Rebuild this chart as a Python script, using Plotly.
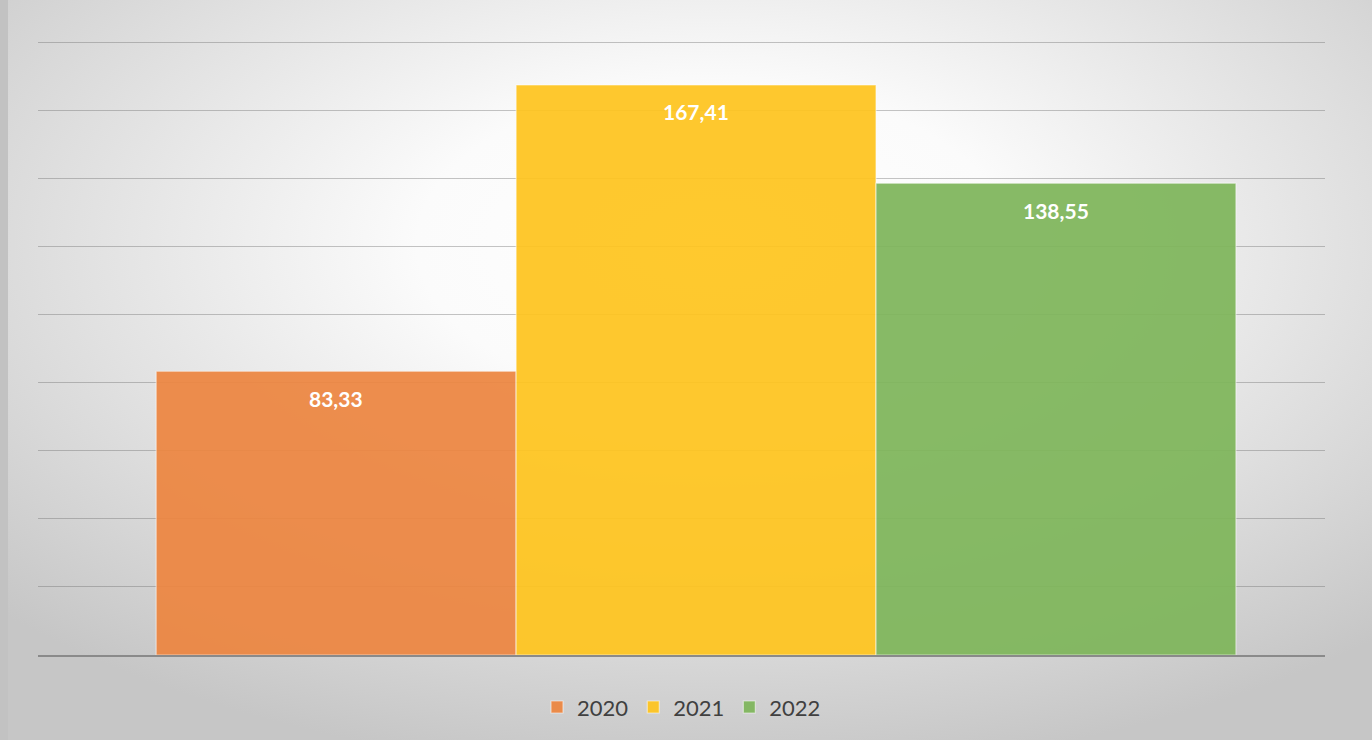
import plotly.graph_objects as go
import base64

years = ["2020", "2021", "2022"]
values = [83.33, 167.41, 138.55]
labels = ["83,33", "167,41", "138,55"]
colors = ["#ED8641", "#FFC51F", "#7FB65B"]
y_ticks = [0, 20, 40, 60, 80, 100, 120, 140, 160, 180]

bargap = 0.161
fig = go.Figure()
for yr, v, c in zip(years, values, colors):
    fig.add_trace(go.Bar(
        x=[0], y=[v], name=yr, opacity=0.93,
        marker=dict(color=c, line=dict(color="rgba(255,255,255,0.55)", width=1.2)),
        hoverinfo="skip",
    ))

# data labels centred over each grouped bar
n = len(years)
w = (1 - bargap) / n
for i, (lab, v) in enumerate(zip(labels, values)):
    xc = -(1 - bargap) / 2 + w * (i + 0.5)
    fig.add_annotation(x=xc, y=v, text=f"<b>{lab}</b>", showarrow=False,
                       yanchor="middle", yshift=-27,
                       font=dict(family="Lato, Open Sans, sans-serif", size=21, color="white"))

svg = ('<svg xmlns="http://www.w3.org/2000/svg" width="1372" height="740" preserveAspectRatio="none">'
       '<defs><radialGradient id="g" cx="0.52" cy="0.33" r="0.72">'
       '<stop offset="0" stop-color="#ffffff"/><stop offset="0.3" stop-color="#fbfbfb"/>'
       '<stop offset="1" stop-color="#c6c6c6"/></radialGradient></defs>'
       '<rect x="0" y="0" width="1372" height="740" fill="url(#g)"/>'
       '<rect x="0" y="0" width="8" height="740" fill="#c2c2c2"/>'
       '</svg>')
src = "data:image/svg+xml;base64," + base64.b64encode(svg.encode()).decode()
fig.add_layout_image(dict(source=src, xref="paper", yref="paper", x=-38/1287, y=1 + 41/614,
                          sizex=1372/1287, sizey=740/614, sizing="stretch",
                          xanchor="left", yanchor="top", layer="below"))

fig.update_layout(
    width=1372, height=740,
    margin=dict(l=38, r=47, t=41, b=85),
    paper_bgcolor="#dadada", plot_bgcolor="rgba(0,0,0,0)",
    barmode="group", bargap=bargap,
    showlegend=True,
    legend=dict(orientation="h", x=0.5, xanchor="center", y=-0.085, yanchor="middle",
                itemwidth=30,
                font=dict(family="Lato, Open Sans, sans-serif", size=22, color="#404040"),
                bgcolor="rgba(0,0,0,0)"),
    xaxis=dict(range=[-0.5113, 0.4887], showticklabels=False, showgrid=False, zeroline=False,
               showline=True, linecolor="#8a8a8a", linewidth=1.5, fixedrange=True),
    yaxis=dict(range=[0, 180.3], tickvals=y_ticks, showticklabels=False, showgrid=True,
               gridcolor="rgba(110,110,110,0.40)", gridwidth=1.3, zeroline=False, showline=False,
               fixedrange=True),
)

fig.write_html("out.html", config={"displayModeBar": False})
with open("out.html", encoding="utf-8") as f:
    html = f.read()
html = html.replace("<body>", '<body style="margin:0;padding:0;">', 1)
with open("out.html", "w", encoding="utf-8") as f:
    f.write(html)
